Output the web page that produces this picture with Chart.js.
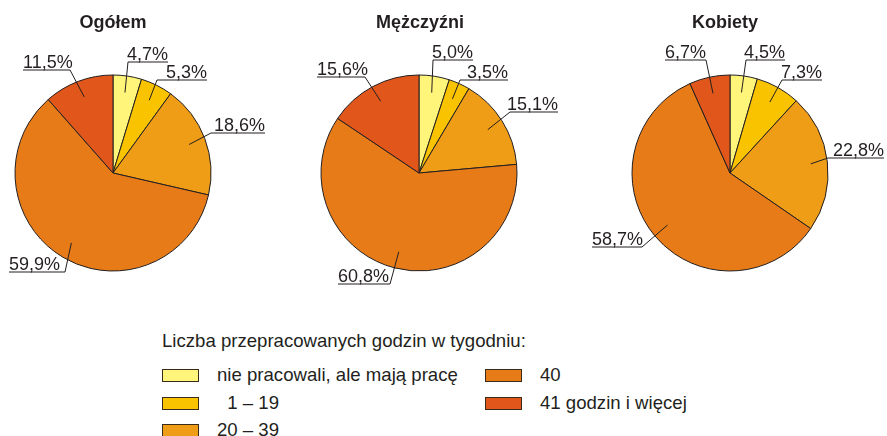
<!DOCTYPE html>
<html>
<head>
<meta charset="utf-8">
<script src="https://cdn.jsdelivr.net/npm/chart.js@4.4.1/dist/chart.umd.min.js"></script>
<style>
  body { margin: 0; background: #fff; width: 887px; height: 436px; overflow: hidden; position: relative;
         font-family: "Liberation Sans", Arial, sans-serif; color: #231f20; }
  canvas.pie { position: absolute; left: 0; top: 0; }
  .lg { position: absolute; font-size: 18.6px; line-height: 18.6px; white-space: pre; }
  .sw { position: absolute; width: 35px; height: 11px; border: 1px solid #3a2a1a; }
</style>
</head>
<body>
<canvas id="pie0" class="pie" width="887" height="300"></canvas>
<canvas id="pie1" class="pie" width="887" height="300"></canvas>
<canvas id="pie2" class="pie" width="887" height="300"></canvas>
<div id="legend"></div>
<script>
// data
const groups = ['Ogółem', 'Mężczyźni', 'Kobiety'];
const categories = ['nie pracowali, ale mają pracę', '  1 – 19', '20 – 39', '40', '41 godzin i więcej'];
const ogolem = [4.7, 5.3, 18.6, 59.9, 11.5];
const mezczyzni = [5.0, 3.5, 15.1, 60.8, 15.6];
const kobiety = [4.5, 7.3, 22.8, 58.7, 6.7];
const legendTitle = 'Liczba przepracowanych godzin w tygodniu:';

const colors = ['#fff57a', '#f9c300', '#ef9d17', '#e77b18', '#e1561a'];
const ink = '#231f20';

// layout
const R = 98;
const centers = [[113, 173], [419, 173], [730, 173]];
const titleX = [113, 420, 725];
// elbow of each leader line relative to pie centre, and underline length (sign = side)
const elbows = [
  [[15, -111, 40], [44, -93, 50], [98, -40, 54], [-48, 99, -56], [-43, -103, -47]],
  [[14, -113, 40], [41, -93, 48], [91, -61, 48], [-29, 111, -52], [-54, -96, -48]],
  [[16, -113, 39], [52, -93, 40], [98, -15, 56], [-88, 74, -50], [-24, -113, -41]]
];

const series = [ogolem, mezczyzni, kobiety];

const fmt = v => v.toFixed(1).replace('.', ',') + '%';

const labelPlugin = {
  id: 'labels',
  afterDatasetsDraw(chart) {
    const idx = chart.options.plugins.labels.idx;
    const ctx = chart.ctx;
    const meta = chart.getDatasetMeta(0);
    const vals = chart.data.datasets[0].data;
    ctx.save();
    // title
    ctx.fillStyle = ink;
    ctx.font = 'bold 18px "Liberation Sans", Arial, sans-serif';
    ctx.textAlign = 'center';
    ctx.textBaseline = 'alphabetic';
    ctx.fillText(groups[idx], titleX[idx], 28);

    ctx.font = '18px "Liberation Sans", Arial, sans-serif';
    ctx.strokeStyle = ink;
    ctx.lineWidth = 1;
    meta.data.forEach((arc, i) => {
      const p = arc.getProps(['x', 'y', 'startAngle', 'endAngle', 'outerRadius'], true);
      const mid = (p.startAngle + p.endAngle) / 2;
      const ax = p.x + Math.cos(mid) * p.outerRadius * 0.83;
      const ay = p.y + Math.sin(mid) * p.outerRadius * 0.83;
      const [dx, dy, len] = elbows[idx][i];
      const ex = p.x + dx, ey = p.y + dy;
      ctx.beginPath();
      ctx.moveTo(ax, ay);
      ctx.lineTo(ex, ey);
      ctx.lineTo(ex + len, ey);
      ctx.stroke();
      ctx.textAlign = len > 0 ? 'right' : 'left';
      ctx.fillText(fmt(vals[i]), ex + len, ey - 2);
    });
    ctx.restore();
  }
};

series.forEach((vals, idx) => {
  const [cx, cy] = centers[idx];
  new Chart(document.getElementById('pie' + idx), {
    type: 'pie',
    data: {
      labels: categories,
      datasets: [{
        data: vals,
        backgroundColor: colors,
        borderColor: ink,
        borderWidth: 1
      }]
    },
    options: {
      responsive: false,
      animation: false,
      radius: R,
      layout: { padding: { left: cx - R, right: 887 - cx - R, top: cy - R, bottom: 300 - cy - R } },
      plugins: {
        legend: { display: false },
        tooltip: { enabled: false },
        labels: { idx: idx }
      }
    },
    plugins: [labelPlugin]
  });
});

// legend: two columns, filled column by column
const legend = document.getElementById('legend');
const colX = [162, 485];
const rowY = [375, 403, 430];
const title = document.createElement('div');
title.className = 'lg';
title.style.left = '162px';
title.style.top = '332px';
title.textContent = legendTitle;
legend.appendChild(title);
categories.forEach((name, i) => {
  const col = i < 3 ? 0 : 1;
  const row = i < 3 ? i : i - 3;
  const sw = document.createElement('div');
  sw.className = 'sw';
  sw.style.left = colX[col] + 'px';
  sw.style.top = (rowY[row] - 6) + 'px';
  sw.style.background = colors[i];
  legend.appendChild(sw);
  const t = document.createElement('div');
  t.className = 'lg';
  t.style.left = (colX[col] + 55) + 'px';
  t.style.top = (rowY[row] - 9.5) + 'px';
  t.textContent = name;
  legend.appendChild(t);
});
</script>
</body>
</html>
